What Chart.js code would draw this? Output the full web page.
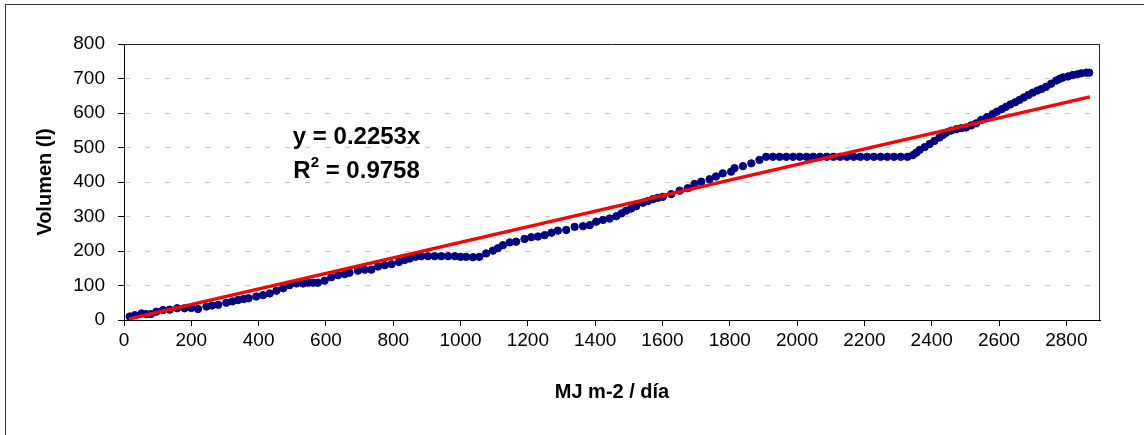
<!DOCTYPE html>
<html>
<head>
<meta charset="utf-8">
<script src="https://cdn.jsdelivr.net/npm/chart.js@4/dist/chart.umd.min.js"></script>
<style>
  html, body { margin: 0; padding: 0; background: #fff; }
  #wrap { position: relative; width: 1144px; height: 435px; }
</style>
</head>
<body>
<div id="wrap"><canvas id="grafico" width="1144" height="435"></canvas></div>
<script>
// radiacion acumulada (MJ m-2 / dia) y volumen acumulado (l)
var radiacion = [
  17, 32, 52, 66, 80, 96, 116, 136, 158, 180, 200, 220, 245, 262, 280, 304, 322, 339, 356, 370,
  393, 413, 433, 453, 473, 492, 512, 532, 548, 562, 576, 596, 616, 636, 656, 670, 695, 715, 735, 755,
  775, 795, 817, 834, 849, 866, 883, 903, 923, 943, 963, 983, 1000, 1017, 1037, 1056, 1076, 1096, 1111, 1126,
  1146, 1165, 1190, 1210, 1230, 1250, 1270, 1289, 1314, 1339, 1364, 1384, 1403, 1423, 1443, 1463, 1478, 1492, 1507, 1522,
  1542, 1557, 1571, 1586, 1601, 1626, 1651, 1675, 1695, 1715, 1740, 1759, 1779, 1804, 1814, 1839, 1864, 1888, 1908, 1928,
  1948, 1968, 1988, 2008, 2028, 2048, 2068, 2088, 2108, 2128, 2148, 2168, 2188, 2208, 2228, 2248, 2268, 2288, 2308, 2328,
  2344, 2354, 2364, 2379, 2394, 2408, 2423, 2433, 2443, 2458, 2473, 2488, 2502, 2517, 2532, 2547, 2564, 2581, 2594, 2608,
  2621, 2634, 2648, 2661, 2674, 2687, 2700, 2714, 2727, 2740, 2755, 2770, 2780, 2790, 2805, 2819, 2832, 2844, 2859, 2868
];
var volumen = [
  10, 14, 19, 17, 17, 24, 29, 30, 34, 34, 35, 32, 39, 42, 44, 50, 54, 58, 61, 63,
  68, 72, 77, 85, 92, 101, 106, 106, 108, 108, 108, 114, 124, 130, 133, 137, 143, 146, 146, 155,
  159, 162, 168, 174, 178, 183, 185, 185, 185, 185, 185, 185, 183, 183, 182, 183, 193, 201, 208, 217,
  225, 227, 235, 240, 242, 246, 253, 259, 261, 270, 272, 275, 285, 290, 294, 301, 309, 317, 323, 330,
  340, 345, 350, 354, 357, 365, 375, 382, 394, 401, 408, 416, 425, 430, 440, 446, 454, 464, 473, 473,
  473, 473, 473, 473, 473, 473, 473, 473, 473, 473, 473, 473, 473, 473, 473, 473, 473, 473, 473, 473,
  478, 485, 493, 501, 510, 519, 529, 536, 543, 549, 553, 556, 558, 564, 570, 580, 588, 597, 604, 611,
  618, 625, 631, 638, 645, 652, 659, 665, 670, 676, 685, 694, 699, 703, 706, 710, 712, 715, 717, 717
];

// marcas de los ejes
var ticksX = [0, 200, 400, 600, 800, 1000, 1200, 1400, 1600, 1800, 2000, 2200, 2400, 2600, 2800];
var ticksY = [0, 100, 200, 300, 400, 500, 600, 700, 800];

// linea de tendencia y = 0.2253x
var pendiente = 0.2253;
var r2 = 0.9758;
var tendenciaX = [15, 2870];

var puntos = radiacion.map(function (x, i) { return { x: x, y: volumen[i] }; });
var tendencia = tendenciaX.map(function (x) { return { x: x, y: pendiente * x }; });

var fuente = "'Liberation Sans', Arial, sans-serif";

// marco exterior y borde del area de trazado
var marcos = {
  id: 'marcos',
  afterDraw: function (chart) {
    var ctx = chart.ctx, a = chart.chartArea;
    ctx.save();
    ctx.strokeStyle = '#333';
    ctx.lineWidth = 1;
    ctx.beginPath();
    ctx.moveTo(5.5, 435);
    ctx.lineTo(5.5, 4.5);
    ctx.lineTo(1144, 4.5);
    ctx.stroke();
    ctx.strokeStyle = '#222';
    ctx.beginPath();
    ctx.moveTo(a.left, a.top + 0.5);
    ctx.lineTo(a.right - 0.5, a.top + 0.5);
    ctx.lineTo(a.right - 0.5, a.bottom);
    ctx.stroke();
    // eje vertical continuo
    ctx.strokeStyle = '#000';
    ctx.beginPath();
    ctx.moveTo(a.left + 0.5, a.top);
    ctx.lineTo(a.left + 0.5, a.bottom);
    ctx.stroke();
    ctx.restore();
  }
};

// ecuacion de la tendencia
var ecuacion = {
  id: 'ecuacion',
  afterDraw: function (chart) {
    var ctx = chart.ctx;
    var sx = chart.scales.x, sy = chart.scales.y;
    var cx = sx.getPixelForValue(691);
    ctx.save();
    ctx.fillStyle = '#000';
    ctx.textBaseline = 'middle';
    ctx.textAlign = 'center';
    ctx.font = 'bold 24px ' + fuente;
    ctx.fillText('y = ' + pendiente + 'x', cx, sy.getPixelForValue(530));
    // R^2 con superindice
    var yR = sy.getPixelForValue(432);
    var t1 = 'R', t2 = ' = ' + r2;
    var w1 = ctx.measureText(t1).width, w3 = ctx.measureText(t2).width;
    ctx.font = 'bold 15px ' + fuente;
    var w2 = ctx.measureText('2').width;
    var x0 = cx - (w1 + w2 + w3) / 2;
    ctx.textAlign = 'left';
    ctx.font = 'bold 24px ' + fuente;
    ctx.fillText(t1, x0, yR);
    ctx.font = 'bold 15px ' + fuente;
    ctx.fillText('2', x0 + w1, yR - 8);
    ctx.font = 'bold 24px ' + fuente;
    ctx.fillText(t2, x0 + w1 + w2, yR);
    ctx.restore();
  }
};

function fijarTicks(lista) {
  return function (s) {
    s.ticks = lista.map(function (v) { return { value: v }; });
  };
}

new Chart(document.getElementById('grafico'), {
  type: 'scatter',
  data: {
    datasets: [{
      type: 'line',
      data: tendencia,
      borderColor: '#ff0000',
      borderWidth: 3.5,
      pointRadius: 0,
      fill: false,
      order: 0
    }, {
      data: puntos,
      backgroundColor: '#000080',
      borderColor: '#000080',
      borderWidth: 1,
      pointRadius: 3.7,
      order: 1
    }]
  },
  options: {
    responsive: false,
    animation: false,
    events: [],
    layout: { padding: { top: 44, right: 44, left: 0, bottom: 0 } },
    plugins: { legend: { display: false }, tooltip: { enabled: false } },
    scales: {
      x: {
        type: 'linear',
        min: 0,
        max: 2900,
        afterFit: function (s) { s.height = 115; },
        afterBuildTicks: fijarTicks(ticksX),
        ticks: { color: '#000', padding: 3, maxRotation: 0, autoSkip: false,
                 callback: function (v) { return String(v); },
                 font: { family: fuente, size: 19 } },
        grid: { drawOnChartArea: false, drawTicks: true, tickLength: 6, tickColor: '#000' },
        border: { display: true, color: '#000', width: 1 },
        title: { display: true, text: 'MJ m-2 / día', color: '#000',
                 font: { family: fuente, size: 20, weight: 'bold' },
                 padding: { top: 0, bottom: 31 } }
      },
      y: {
        min: 0,
        max: 800,
        afterFit: function (s) { s.width = 124; },
        afterBuildTicks: fijarTicks(ticksY),
        ticks: { color: '#000', padding: 13,
                 callback: function (v) { return String(v); },
                 font: { family: fuente, size: 19 } },
        grid: {
          color: function (c) { return (c.tick.value === 0 || c.tick.value === 800) ? 'rgba(0,0,0,0)' : '#c8c8c8'; },
          lineWidth: 1,
          drawTicks: true,
          tickLength: 6,
          tickColor: '#000',
          tickBorderDash: [],
          tickBorderDashOffset: 0
        },
        // en v4 el guion de las lineas de cuadricula va en border.dash
        border: { display: true, color: '#000', width: 1, dash: [5, 15], dashOffset: 0 },
        title: { display: true, text: 'Volumen (l)', color: '#000',
                 font: { family: fuente, size: 20, weight: 'bold' },
                 padding: { top: 33, bottom: 0 } }
      }
    }
  },
  plugins: [marcos, ecuacion]
});
</script>
</body>
</html>
